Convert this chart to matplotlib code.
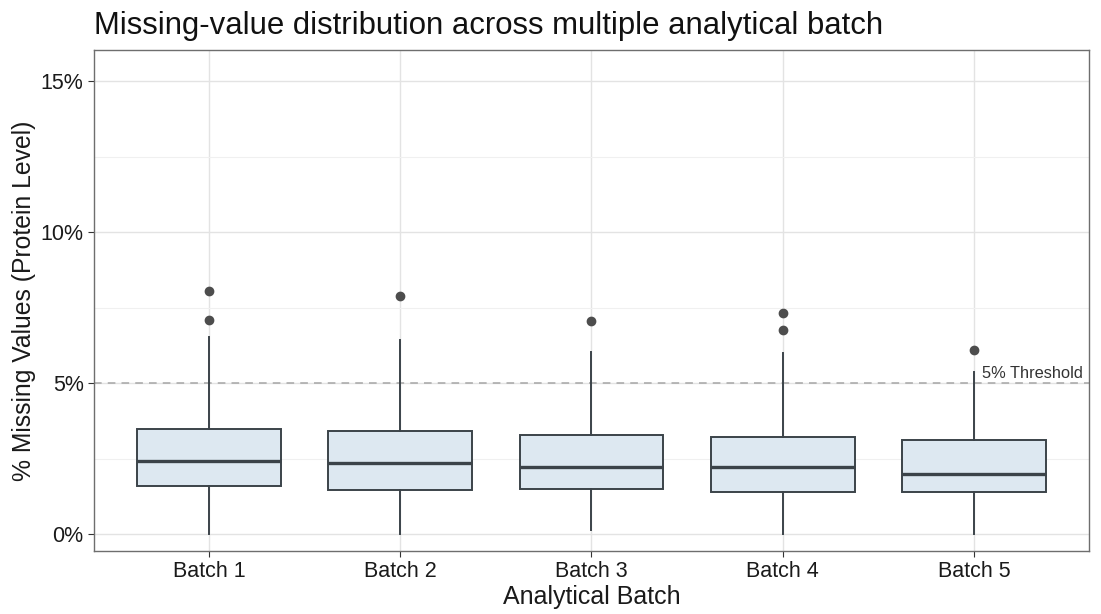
import matplotlib
matplotlib.use("Agg")
import matplotlib.pyplot as plt
from matplotlib.ticker import FuncFormatter, MultipleLocator

plt.rcParams['font.family'] = ['Liberation Sans', 'DejaVu Sans']

# Values (% missing values)
batches = ["Batch 1", "Batch 2", "Batch 3", "Batch 4", "Batch 5"]
whisker_low = [0.0, 0.0, 0.13, 0.0, 0.0]
q1 = [1.59, 1.46, 1.49, 1.39, 1.39]
medians = [2.42, 2.35, 2.22, 2.22, 1.99]
q3 = [3.48, 3.41, 3.28, 3.21, 3.11]
whisker_high = [6.52, 6.42, 6.03, 5.99, 5.36]
outliers = [[7.09, 8.05], [7.88], [7.05], [6.75, 7.32], [6.09]]
threshold = 5.0

stats = []
for i, name in enumerate(batches):
    stats.append(dict(label=name, whislo=whisker_low[i], q1=q1[i], med=medians[i],
                      q3=q3[i], whishi=whisker_high[i], fliers=outliers[i]))

fig = plt.figure(figsize=(11.01, 6.14), dpi=100)
ax = fig.add_axes([0.0854, 0.1026, 0.9036, 0.816])

edge = "#3b4349"
positions = list(range(1, len(batches) + 1))
ax.bxp(stats, positions=positions, widths=0.75, patch_artist=True, showcaps=False,
       boxprops=dict(facecolor="#dde8f1", edgecolor=edge, linewidth=1.4),
       medianprops=dict(color=edge, linewidth=2.4),
       whiskerprops=dict(color=edge, linewidth=1.4),
       flierprops=dict(marker="o", markerfacecolor="#4d4d4d", markeredgecolor="#4d4d4d",
                       markersize=6),
       zorder=3)

ax.axhline(threshold, color="#a6a6a6", linestyle=(0, (5, 4)), linewidth=1.1, zorder=2)
ax.text(5.567, threshold + 0.08, "5% Threshold", ha="right", va="bottom",
        fontsize=11.8, color="#333333", zorder=4)

ax.set_xlim(0.4, 5.6)
ax.set_ylim(-0.56, 16.03)
ax.yaxis.set_major_locator(MultipleLocator(5))
ax.yaxis.set_minor_locator(MultipleLocator(2.5))
ax.yaxis.set_major_formatter(FuncFormatter(lambda v, p: f"{v:.0f}%"))
ax.set_xticks(positions)
ax.set_xticklabels(batches)

ax.grid(True, which="major", color="#e3e3e3", linewidth=1.0, zorder=0)
ax.grid(True, which="minor", axis="y", color="#f0f0f0", linewidth=0.8, zorder=0)
ax.set_axisbelow(True)
ax.tick_params(axis="both", which="major", length=4, color="#333333",
               labelsize=15.5, labelcolor="#1a1a1a")
ax.tick_params(axis="x", which="major", pad=3)
ax.tick_params(axis="y", which="minor", length=0)
for s in ax.spines.values():
    s.set_color("#6e6e6e")
    s.set_linewidth(1.0)

ax.set_xlabel("Analytical Batch", fontsize=18, color="#1a1a1a", labelpad=2)
ax.set_ylabel("% Missing Values (Protein Level)", fontsize=17.8, color="#1a1a1a", labelpad=3)
fig.text(0.0854, 1 - 34 / 614, "Missing-value distribution across multiple analytical batch",
         fontsize=22.4, color="#111111", ha="left", va="baseline")

fig.savefig("out.png", dpi=100)
